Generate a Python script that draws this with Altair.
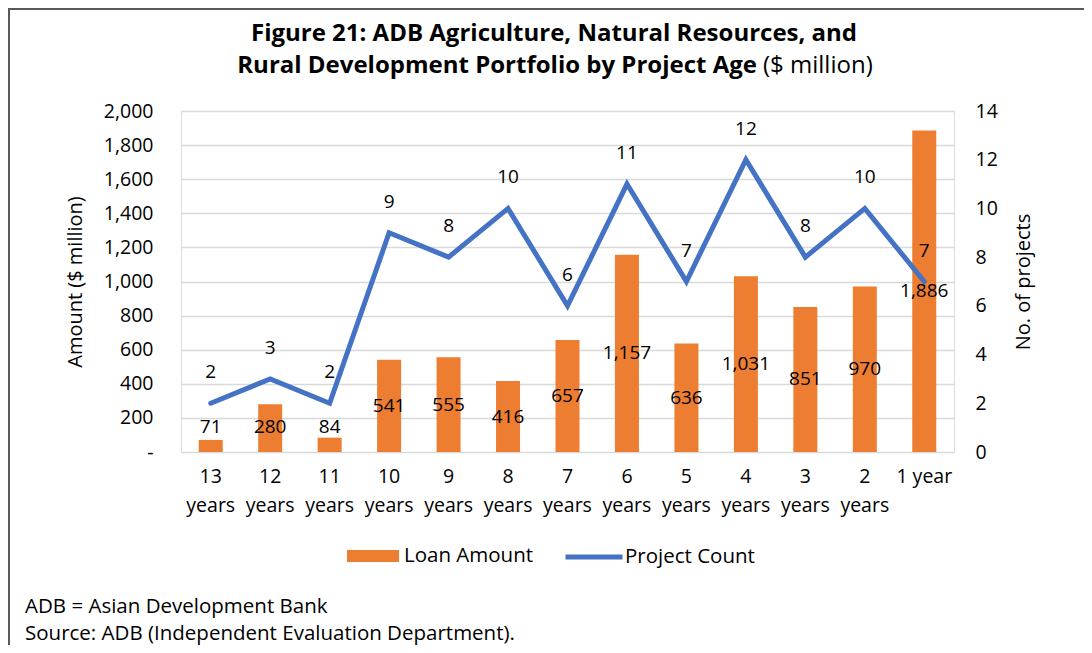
import altair as alt
import pandas as pd

categories = ["13 years", "12 years", "11 years", "10 years", "9 years", "8 years",
              "7 years", "6 years", "5 years", "4 years", "3 years", "2 years", "1 year"]
loan_amount = [71, 280, 84, 541, 555, 416, 657, 1157, 636, 1031, 851, 970, 1886]
project_count = [2, 3, 2, 9, 8, 10, 6, 11, 7, 12, 8, 10, 7]

title_line1 = "Figure 21: ADB Agriculture, Natural Resources, and"
title_line2_bold = "Rural Development Portfolio by Project Age"
title_line2_reg = "($ million)"
footer1 = "ADB = Asian Development Bank"
footer2 = "Source: ADB (Independent Evaluation Department)."

ORANGE = "#ED7D31"
BLUE = "#4472C4"
FONT = "Open Sans"
TICK = 19.5

df = pd.DataFrame({"age": categories, "amount": loan_amount, "count": project_count})

W, H = 773, 341

x_enc = alt.X(
    "age:N", sort=categories,
    scale=alt.Scale(paddingInner=0, paddingOuter=0),
    axis=alt.Axis(
        title=None, ticks=False, domain=False, labelAngle=0,
        labelExpr="datum.label == '1 year' ? datum.label : split(datum.label, ' ')",
        labelFontSize=TICK, labelLineHeight=29, labelPadding=15, labelColor="#000000",
        labelFont=FONT, labelBaseline="top",
    ),
)

left_axis = alt.Axis(title="Amount ($ million)", values=list(range(0, 2001, 200)),
                     labelExpr="datum.value == 0 ? '-' : format(datum.value, ',')",
                     ticks=False, domain=False, grid=True, gridColor="#D9D9D9",
                     gridWidth=1.5, labelFontSize=TICK, labelPadding=28,
                     labelColor="#000000", labelFont=FONT,
                     titleFontSize=20, titleFontWeight="normal", titleColor="#000000",
                     titleFont=FONT, titlePadding=18)
right_axis = alt.Axis(title="No. of projects", orient="right", values=list(range(0, 15, 2)),
                      ticks=False, domain=False, grid=False, labelFontSize=TICK,
                      labelPadding=21, labelColor="#000000", labelFont=FONT,
                      titleFontSize=20, titleFontWeight="normal", titleColor="#000000",
                      titleFont=FONT, titlePadding=36, titleAngle=270)

left_scale = alt.Scale(domain=[0, 2000])
right_scale = alt.Scale(domain=[0, 14])

base = alt.Chart(df).encode(x=x_enc)

bars = base.mark_bar(size=24, color=ORANGE).transform_calculate(
    s1="'Loan Amount'"
).encode(
    y=alt.Y("amount:Q", scale=left_scale, axis=left_axis),
    fill=alt.Fill("s1:N", scale=alt.Scale(domain=["Loan Amount"], range=[ORANGE]),
                  legend=alt.Legend(title=None, orient="none", legendX=166, legendY=419,
                                    direction="horizontal",
                                    symbolType="M-1,-0.23H1V0.23H-1Z", symbolSize=2704,
                                    symbolStrokeWidth=0, labelFontSize=20.5, labelFont=FONT,
                                    labelColor="#000000", labelOffset=5, padding=0)),
)

bar_labels = base.mark_text(fontSize=19, font=FONT, color="#000000").transform_calculate(
    ly="max(datum.amount / 2, 145)"
).encode(
    y=alt.Y("ly:Q", scale=left_scale, axis=left_axis),
    text=alt.Text("amount:Q", format=","),
)

line = base.mark_line(strokeWidth=5, strokeCap="round", strokeJoin="miter").transform_calculate(
    s2="'Project Count'"
).encode(
    y=alt.Y("count:Q", scale=right_scale, axis=right_axis),
    stroke=alt.Stroke("s2:N", scale=alt.Scale(domain=["Project Count"], range=[BLUE]),
                      legend=alt.Legend(title=None, orient="none", legendX=382, legendY=415,
                                        direction="horizontal", symbolType="stroke",
                                        symbolSize=3249, symbolStrokeWidth=5,
                                        labelFontSize=20.5, labelFont=FONT,
                                        labelColor="#000000", labelOffset=0, padding=0)),
)

line_labels = base.mark_text(fontSize=19, font=FONT, color="#000000", dy=-31).encode(
    y=alt.Y("count:Q", scale=right_scale, axis=right_axis),
    text=alt.Text("count:Q"),
)

left = alt.layer(bars, bar_labels)
right = alt.layer(line, line_labels)

deco_df = pd.DataFrame({"k": [0]})
deco = alt.Chart(deco_df)

t1 = deco.mark_text(text=title_line1, fontSize=24, fontWeight="bold", font=FONT,
                    color="#000000", align="center", baseline="middle").encode(
    x=alt.value(373), y=alt.value(-77))
t2a = deco.mark_text(text=title_line2_bold, fontSize=24, fontWeight="bold", font=FONT,
                     color="#000000", align="right", baseline="middle").encode(
    x=alt.value(576), y=alt.value(-45))
t2b = deco.mark_text(text=title_line2_reg, fontSize=24, fontWeight="normal", font=FONT,
                     color="#000000", align="left", baseline="middle").encode(
    x=alt.value(582), y=alt.value(-45))
f1 = deco.mark_text(text=footer1, fontSize=20.5, font=FONT, color="#000000",
                    align="left", baseline="middle").encode(
    x=alt.value(-156), y=alt.value(496))
f2 = deco.mark_text(text=footer2, fontSize=20.5, font=FONT, color="#000000",
                    align="left", baseline="middle").encode(
    x=alt.value(-156), y=alt.value(523))
border = deco.mark_rect(fill=None, stroke="#595959", strokeWidth=2).encode(
    x=alt.value(-172), x2=alt.value(1200), y=alt.value(-102), y2=alt.value(900))

chart = alt.layer(left, right, t1, t2a, t2b, f1, f2, border).resolve_scale(
    y="independent", fill="independent", stroke="independent"
).properties(
    width=W, height=H,
    autosize=alt.AutoSizeParams(type="none"),
    padding={"left": 173, "top": 103, "right": 130, "bottom": 193},
).configure_view(
    stroke="#BFBFBF", strokeWidth=2
).configure(background="white")

chart.save("out.html", embed_options={"renderer": "svg", "actions": False})
